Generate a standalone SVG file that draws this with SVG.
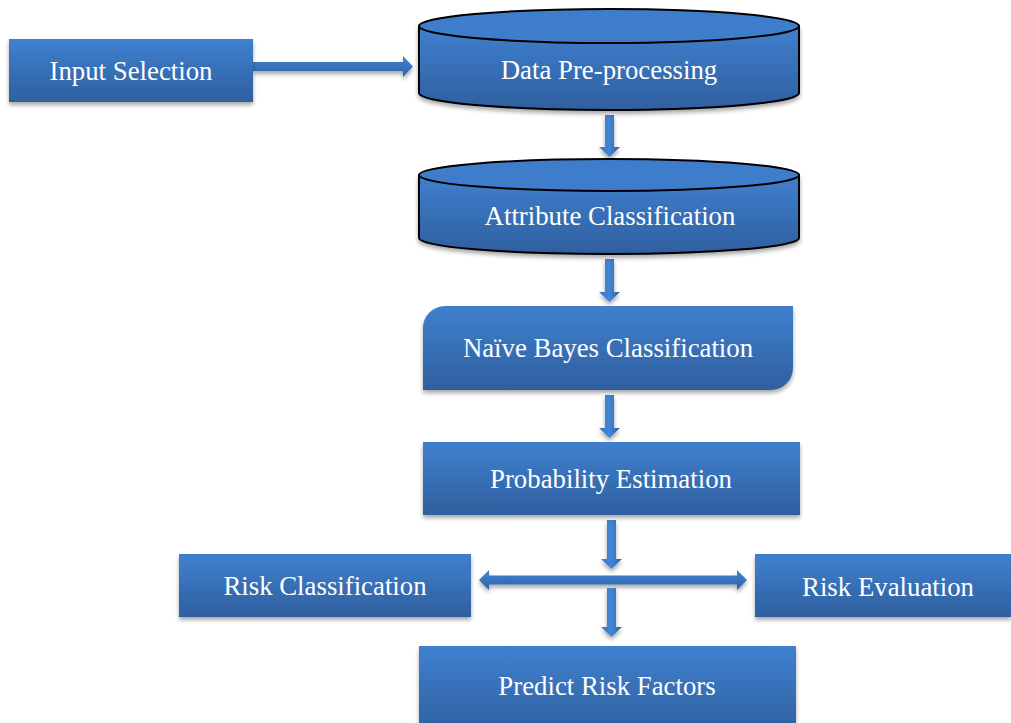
<svg xmlns="http://www.w3.org/2000/svg" width="1011" height="723" viewBox="0 0 1011 723">
<defs>
<linearGradient id="g" x1="0" y1="0" x2="0" y2="1">
<stop offset="0" stop-color="#3f80cf"/>
<stop offset="1" stop-color="#2f5f9e"/>
</linearGradient>
<linearGradient id="gh" x1="0" y1="0" x2="0" y2="1">
<stop offset="0" stop-color="#4182d2"/>
<stop offset="1" stop-color="#2f64a6"/>
</linearGradient>
<linearGradient id="gv" x1="0" y1="0" x2="1" y2="0">
<stop offset="0" stop-color="#3a78c6"/>
<stop offset="0.5" stop-color="#4384d4"/>
<stop offset="1" stop-color="#2f64a6"/>
</linearGradient>
<filter id="sh" x="-10%" y="-10%" width="120%" height="130%">
<feGaussianBlur in="SourceAlpha" stdDeviation="2"/>
<feOffset dx="0" dy="3" result="b"/>
<feComponentTransfer><feFuncA type="linear" slope="0.35"/></feComponentTransfer>
<feMerge><feMergeNode/><feMergeNode in="SourceGraphic"/></feMerge>
</filter>
</defs>
<style>
text{font-family:"Liberation Serif","Times New Roman",serif;font-size:26.8px;fill:#ffffff;text-anchor:middle}
.box{fill:url(#g);filter:url(#sh)}
.cyl{fill:url(#g);stroke:#000;stroke-width:2}
.top{fill:#3d7dcc;stroke:#000;stroke-width:2}
.arr{fill:url(#gh);filter:url(#sh)}
.arrv{fill:url(#gv);filter:url(#sh)}
</style>
<g id="connectors">
<polygon class="arr" points="253,62 403,62 403,56 413,66.5 403,77 403,71 253,71"/>
<polygon class="arrv" points="605,115 614,115 614,147 620,147 609.5,157 599,147 605,147"/>
<polygon class="arrv" points="605,259 614,259 614,292 620,292 609.5,302 599,292 605,292"/>
<polygon class="arrv" points="605,395 614,395 614,428 620,428 609.5,438 599,428 605,428"/>
<polygon class="arrv" points="607,520 616,520 616,559 622,559 611.5,569 601,559 607,559"/>
<polygon class="arr" points="489,575.5 737,575.5 737,570 747,580 737,590 737,584.5 489,584.5 489,590 479,580 489,570"/>
<polygon class="arrv" points="607,588 616,588 616,627 622,627 611.5,637 601,627 607,627"/>
</g>
<g id="input-selection">
<rect class="box" x="9" y="39" width="244" height="63"/>
<text x="131" y="80">Input Selection</text>
</g>
<g id="data-preprocessing">
<path class="cyl" d="M419,26 L419,93 A190,17 0 0 0 799,93 L799,26 Z" filter="url(#sh)"/>
<ellipse class="top" cx="609" cy="26" rx="190" ry="17"/>
<text x="609" y="79">Data Pre-processing</text>
</g>
<g id="attribute-classification">
<path class="cyl" d="M419,175 L419,238 A190,16 0 0 0 799,238 L799,175 Z" filter="url(#sh)"/>
<ellipse class="top" cx="609" cy="175" rx="190" ry="16"/>
<text x="610" y="225">Attribute Classification</text>
</g>
<g id="naive-bayes">
<path class="box" d="M445,306 L793,306 L793,368 A22,22 0 0 1 771,390 L423,390 L423,328 A22,22 0 0 1 445,306 Z"/>
<text x="608" y="357">Naïve Bayes Classification</text>
</g>
<g id="probability-estimation">
<rect class="box" x="423" y="442" width="377" height="73"/>
<text x="611" y="488">Probability Estimation</text>
</g>
<g id="risk-classification">
<rect class="box" x="179" y="554" width="292" height="63"/>
<text x="325" y="595">Risk Classification</text>
</g>
<g id="risk-evaluation">
<rect class="box" x="755" y="554" width="256" height="63"/>
<text x="888" y="596">Risk Evaluation</text>
</g>
<g id="predict-risk-factors">
<rect class="box" x="419" y="646" width="377" height="90"/>
<text x="607" y="695">Predict Risk Factors</text>
</g>
</svg>
